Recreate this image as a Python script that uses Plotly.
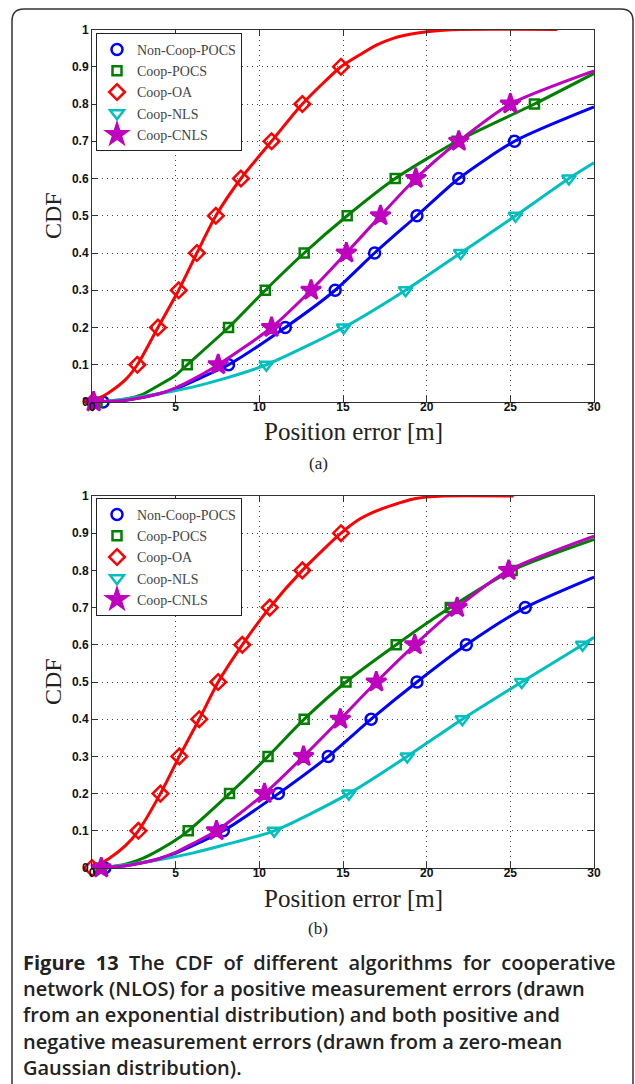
import plotly.graph_objects as go

W, H = 635, 1084


def px(x):
    return x / W


def py(y):
    return 1 - y / H


names = ["Non-Coop-POCS", "Coop-POCS", "Coop-OA", "Coop-NLS", "Coop-CNLS"]
colors = ["#0000FF", "#008000", "#FF0000", "#00BFBF", "#BF00BF"]
symbols = ["circle-open", "square-open", "diamond-open", "triangle-down-open", "star"]
msizes = [11, 9, 12, 12, 15]

levels = [0.0, 0.1, 0.2, 0.3, 0.4, 0.5, 0.6, 0.7, 0.8, 0.9]
x_ticks = [0, 5, 10, 15, 20, 25, 30]
y_ticks = [0, 0.1, 0.2, 0.3, 0.4, 0.5, 0.6, 0.7, 0.8, 0.9, 1]
y_ticklabels = ["0", "0.1", "0.2", "0.3", "0.4", "0.5", "0.6", "0.7", "0.8", "0.9", "1"]

# ---------- panel (a): markers at CDF levels 0, 0.1, ...
a_noncoop_mx = [0.66, 8.16, 11.55, 14.53, 16.89, 19.42, 21.92, 25.25]
a_pocs_mx = [0.3, 5.69, 8.16, 10.36, 12.68, 15.25, 18.12, 21.82, 26.44]
a_oa_mx = [0.05, 2.71, 3.94, 5.18, 6.27, 7.40, 8.90, 10.73, 12.57, 14.88]
a_nls_mx = [0.1, 10.42, 15.04, 18.74, 22.03, 25.31, 28.5]
a_cnls_mx = [0.1, 7.54, 10.73, 13.09, 15.2, 17.24, 19.35, 21.92, 25.0]

# ---------- panel (a): curves
a_noncoop_lx = [0, 1, 2, 3, 4, 5, 6.5, 8.16, 11.55, 14.53, 16.89, 19.42, 21.92, 25.25, 30]
a_noncoop_ly = [0, 0.002, 0.005, 0.012, 0.022, 0.035, 0.065, 0.1, 0.2, 0.3, 0.4, 0.5, 0.6, 0.7, 0.792]
a_pocs_lx = [0, 1, 2, 3, 4, 5, 5.69, 8.16, 10.36, 12.68, 15.25, 18.12, 21.82, 26.44, 30]
a_pocs_ly = [0, 0.002, 0.008, 0.02, 0.045, 0.072, 0.1, 0.2, 0.3, 0.4, 0.5, 0.6, 0.7, 0.8, 0.882]
a_oa_lx = [0, 1, 2, 2.71, 3.94, 5.18, 6.27, 7.40, 8.90, 10.73, 12.57, 14.88, 16, 17, 18, 19, 20, 21, 22, 27.8]
a_oa_ly = [0, 0.025, 0.06, 0.1, 0.2, 0.3, 0.4, 0.5, 0.6, 0.7, 0.8, 0.9, 0.932, 0.958, 0.976, 0.987, 0.994, 0.998, 1.0, 1.0]
a_nls_lx = [0, 1, 2, 4, 6, 8, 10.42, 15.04, 18.74, 22.03, 25.31, 28.5, 30]
a_nls_ly = [0, 0.003, 0.008, 0.022, 0.04, 0.064, 0.1, 0.2, 0.3, 0.4, 0.5, 0.6, 0.642]
a_cnls_lx = [0, 1, 2, 3, 4, 5, 6, 7.54, 10.73, 13.09, 15.2, 17.24, 19.35, 21.92, 25.0, 30]
a_cnls_ly = [0, 0.002, 0.005, 0.012, 0.022, 0.038, 0.06, 0.1, 0.2, 0.3, 0.4, 0.5, 0.6, 0.7, 0.8, 0.889]

# ---------- panel (b): markers
b_noncoop_mx = [0.76, 7.85, 11.14, 14.12, 16.68, 19.42, 22.37, 25.89]
b_pocs_mx = [0.4, 5.75, 8.22, 10.52, 12.68, 15.18, 18.18, 21.41, 25.11]
b_oa_mx = [0.0, 2.77, 4.09, 5.22, 6.41, 7.54, 8.98, 10.62, 12.57, 14.88]
b_nls_mx = [0.66, 10.89, 15.35, 18.84, 22.13, 25.68, 29.32]
b_cnls_mx = [0.55, 7.44, 10.31, 12.64, 14.84, 16.99, 19.29, 21.82, 24.9]

# ---------- panel (b): curves
b_noncoop_lx = [0, 1, 2, 3, 4, 5, 6.5, 7.85, 11.14, 14.12, 16.68, 19.42, 22.37, 25.89, 30]
b_noncoop_ly = [0, 0.002, 0.006, 0.014, 0.025, 0.04, 0.07, 0.1, 0.2, 0.3, 0.4, 0.5, 0.6, 0.7, 0.782]
b_pocs_lx = [0, 1, 2, 3, 4, 5, 5.75, 8.22, 10.52, 12.68, 15.18, 18.18, 21.41, 25.11, 30]
b_pocs_ly = [0, 0.003, 0.01, 0.025, 0.048, 0.075, 0.1, 0.2, 0.3, 0.4, 0.5, 0.6, 0.7, 0.8, 0.883]
b_oa_lx = [0, 1, 2, 2.77, 4.09, 5.22, 6.41, 7.54, 8.98, 10.62, 12.57, 14.88, 16, 17, 18, 19, 20, 21, 25.2]
b_oa_ly = [0, 0.025, 0.06, 0.1, 0.2, 0.3, 0.4, 0.5, 0.6, 0.7, 0.8, 0.9, 0.938, 0.96, 0.976, 0.99, 0.997, 1.0, 1.0]
b_nls_lx = [0, 1, 2, 4, 6, 8, 10.89, 15.35, 18.84, 22.13, 25.68, 29.32, 30]
b_nls_ly = [0, 0.003, 0.008, 0.022, 0.04, 0.063, 0.1, 0.2, 0.3, 0.4, 0.5, 0.6, 0.62]
b_cnls_lx = [0, 1, 2, 3, 4, 5, 6, 7.44, 10.31, 12.64, 14.84, 16.99, 19.29, 21.82, 24.9, 30]
b_cnls_ly = [0, 0.002, 0.006, 0.014, 0.025, 0.042, 0.065, 0.1, 0.2, 0.3, 0.4, 0.5, 0.6, 0.7, 0.8, 0.892]

panels = [
    ("x", "y", "legend", [
        (a_noncoop_lx, a_noncoop_ly, a_noncoop_mx),
        (a_pocs_lx, a_pocs_ly, a_pocs_mx),
        (a_oa_lx, a_oa_ly, a_oa_mx),
        (a_nls_lx, a_nls_ly, a_nls_mx),
        (a_cnls_lx, a_cnls_ly, a_cnls_mx),
    ]),
    ("x2", "y2", "legend2", [
        (b_noncoop_lx, b_noncoop_ly, b_noncoop_mx),
        (b_pocs_lx, b_pocs_ly, b_pocs_mx),
        (b_oa_lx, b_oa_ly, b_oa_mx),
        (b_nls_lx, b_nls_ly, b_nls_mx),
        (b_cnls_lx, b_cnls_ly, b_cnls_mx),
    ]),
]

fig = go.Figure()
for xa, ya, leg, series in panels:
    for i, (lx, ly, mx) in enumerate(series):
        fig.add_trace(go.Scatter(
            x=lx, y=ly, mode="lines", xaxis=xa, yaxis=ya,
            line=dict(color=colors[i], width=3, shape="spline", smoothing=0.7),
            showlegend=False, hoverinfo="skip"))
        fig.add_trace(go.Scatter(
            x=mx, y=levels[:len(mx)], mode="markers", xaxis=xa, yaxis=ya,
            name=names[i], legend=leg, cliponaxis=False,
            marker=dict(symbol=symbols[i], size=msizes[i], color=colors[i],
                        line=dict(color=colors[i], width=2.5))))

axis_common = dict(
    range=[0, 30], showline=True, linecolor="#333", linewidth=1, mirror="ticks",
    ticks="inside", ticklen=6, tickcolor="#333",
    showgrid=True, gridcolor="#444", gridwidth=1, griddash="1px,4px",
    zeroline=False, automargin=False,
    tickfont=dict(family="Liberation Sans", size=12, color="#111", weight="bold"),
)

xdom = [px(92), px(594)]
fig.update_layout(
    width=W, height=H, autosize=False,
    margin=dict(l=0, r=0, t=0, b=0, pad=0),
    paper_bgcolor="white", plot_bgcolor="white",
    xaxis=dict(axis_common, domain=xdom, anchor="y", tickvals=x_ticks, ticklabelstandoff=-6),
    yaxis=dict(axis_common, range=[0, 1], domain=[py(402), py(29.5)], anchor="x",
               tickvals=y_ticks, ticktext=y_ticklabels),
    xaxis2=dict(axis_common, domain=xdom, anchor="y2", tickvals=x_ticks, ticklabelstandoff=-6),
    yaxis2=dict(axis_common, range=[0, 1], domain=[py(868), py(496)], anchor="x2",
                tickvals=y_ticks, ticktext=y_ticklabels),
    legend=dict(x=px(96), y=py(33), xanchor="left", yanchor="top",
                bgcolor="white", bordercolor="#222", borderwidth=1,
                font=dict(family="Liberation Serif", size=14, color="#444"),
                tracegroupgap=0, itemwidth=30),
    legend2=dict(x=px(96), y=py(498), xanchor="left", yanchor="top",
                 bgcolor="white", bordercolor="#222", borderwidth=1,
                 font=dict(family="Liberation Serif", size=14, color="#444"),
                 tracegroupgap=0, itemwidth=30),
)

serif = "Liberation Serif"
annotations = [
    dict(text="Position error [m]", x=px(353), y=py(432), font=dict(family=serif, size=25, color="#222")),
    dict(text="Position error [m]", x=px(353), y=py(898), font=dict(family=serif, size=25, color="#222")),
    dict(text="CDF", x=px(53), y=py(216), textangle=-90, font=dict(family=serif, size=24, color="#222")),
    dict(text="CDF", x=px(53), y=py(682), textangle=-90, font=dict(family=serif, size=24, color="#222")),
    dict(text="(a)", x=px(318), y=py(463), font=dict(family=serif, size=17, color="#222")),
    dict(text="(b)", x=px(318), y=py(928), font=dict(family=serif, size=17, color="#222")),
]
J = "\u00a0 "  # widened gap to mimic the justified first caption line
caption_lines = [
    "<b>Figure" + J + "13</b>" + J + J.join(["The", "CDF", "of", "different", "algorithms", "for", "cooperative"]),
    "network (NLOS) for a positive measurement errors (drawn",
    "from an exponential distribution) and both positive and",
    "negative measurement errors (drawn from a zero-mean",
    "Gaussian distribution).",
]
caption_y = [962, 988, 1014, 1041, 1067]
for t, yy in zip(caption_lines, caption_y):
    annotations.append(dict(text=t, x=px(21), y=py(yy), xanchor="left",
                            font=dict(family="Open Sans", size=20, color="#222", weight=600)))
for a in annotations:
    a.setdefault("xanchor", "center")
    a.update(xref="paper", yref="paper", yanchor="middle", showarrow=False)
fig.update_layout(annotations=annotations)

# rounded frame (bottom runs off the page)
x0, x1, y0, r = px(12), px(633), py(9), 12
frame = (f"M {x0},{py(1100)} L {x0},{py(9 + r)} Q {x0},{y0} {px(12 + r)},{y0} "
         f"L {px(633 - r)},{y0} Q {x1},{y0} {x1},{py(9 + r)} L {x1},{py(1100)}")
fig.add_shape(type="path", path=frame, xref="paper", yref="paper",
              line=dict(color="#333", width=1.5))

fig.write_html("out.html", config={"displayModeBar": False},
               post_script="document.body.style.margin='0';document.body.style.overflow='hidden';")
